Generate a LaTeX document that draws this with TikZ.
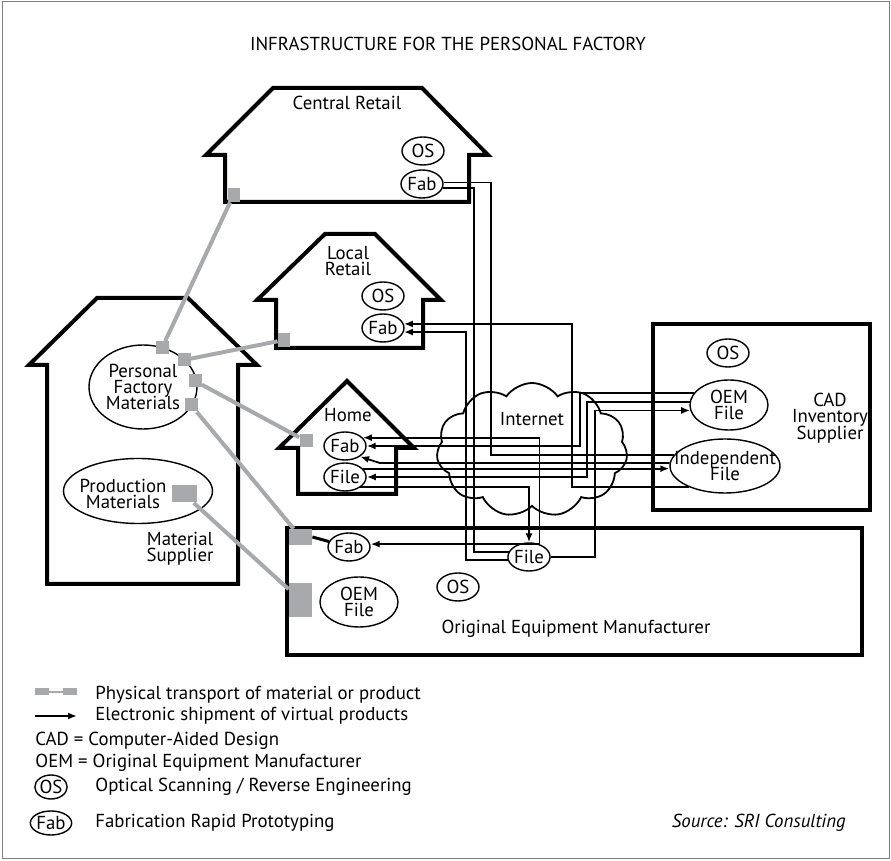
\documentclass[tikz,border=0pt]{standalone}
\usepackage{fontspec}
\setmainfont{PT Sans}
\usetikzlibrary{shapes.geometric,shapes.symbols,arrows.meta}
\definecolor{transportgray}{RGB}{168,169,173}
\lineskiplimit=-100pt

\begin{document}
\begin{tikzpicture}[x=0.5pt,y=-0.5pt,
    font=\fontsize{9.4}{8.1}\selectfont,
    house/.style={line width=2pt, line join=miter},
    oval/.style={draw, ellipse, inner sep=0pt, line width=0.7pt, align=center},
    smalloval/.style={oval, minimum width=21pt, minimum height=14pt},
    fileoval/.style={oval, minimum width=39pt, minimum height=25pt},
    txt/.style={align=center, inner sep=0pt},
    pad/.style={fill=transportgray, inner sep=0pt, minimum width=6.5pt, minimum height=6.5pt},
    transport/.style={draw=transportgray, line width=2pt},
    wire/.style={line width=0.9pt},
    ship/.style={wire, -{Latex[length=4.5pt,width=3.5pt]}}]
        \useasboundingbox (0,0) rectangle (891,861);
        \draw[gray, line width=0.5pt] (2,2) rectangle (889,859);
        \node[txt] (title) at (448,44) {INFRASTRUCTURE FOR THE PERSONAL FACTORY};

        % buildings
        \draw[house] (225,202) -- (225,155) -- (206,155) -- (273,88) -- (422,88)
            -- (488,155) -- (469,155) -- (469,202) -- cycle;
        \draw[house] (276,348) -- (276,300) -- (257,300) -- (325,234) -- (375,234)
            -- (441,300) -- (423,300) -- (423,348) -- cycle;
        \draw[house] (298,494) -- (298,448) -- (279,448) -- (347,381) -- (414,448)
            -- (396,448) -- (396,494) -- cycle;
        \draw[house] (47,584) -- (47,365) -- (29,365) -- (97,298) -- (188,298)
            -- (257,365) -- (238,365) -- (238,584) -- cycle;
        \draw[house] (653,324) rectangle (870,510);
        \draw[house] (287,528) rectangle (862,655);

        \node[txt] (crlabel) at (347,103) {Central Retail};
        \node[txt] (lrlabel) at (348,261) {Local\\Retail};
        \node[txt] (homelabel) at (348,415) {Home};
        \node[txt] (cadlabel) at (830,418) {CAD\\Inventory\\Supplier};
        \node[txt] (oemlabel) at (576,629) {Original Equipment Manufacturer};
        \node[txt] (mslabel) at (180,549) {Material\\Supplier};

        % internet
        \node[cloud, draw, line width=0.9pt, cloud puffs=11, cloud puff arc=110, aspect=1.5,
            minimum width=95.5pt, minimum height=67pt, inner sep=0pt] (internet) at (532,450) {};
        \node[txt] (netlabel) at (532,419) {Internet};

        % ovals
        \node[smalloval] (cos) at (423,151) {OS};
        \node[smalloval] (cfab) at (422,184) {Fab};
        \node[smalloval] (los) at (383,296) {OS};
        \node[smalloval] (lfab) at (383,328) {Fab};
        \node[smalloval] (hfab) at (345,446) {Fab};
        \node[smalloval] (hfile) at (345,477) {File};
        \node[smalloval] (sos) at (728,353) {OS};
        \node[fileoval] (soem) at (729,405) {OEM\\File};
        \node[oval, minimum width=55pt, minimum height=27pt] (sind) at (725,466) {};
        \node[txt] (sindlabel) at (725,466) {Independent\\File};
        \node[smalloval] (mfab) at (349,547) {Fab};
        \node[smalloval] (mfile) at (529,557) {File};
        \node[smalloval] (mos) at (458,587) {OS};
        \node[fileoval] (moem) at (359,602) {OEM\\File};
        \node[oval, minimum width=54pt, minimum height=42pt] (pfm) at (143,387) {Personal\\Factory\\Materials};
        \node[oval, minimum width=74.5pt, minimum height=32.5pt] (prod) at (138,491) {};
        \node[txt] (prodlabel) at (123,494) {Production\\Materials};

        % electronic shipment
        \draw[wire] (cfab.4) -| (491,0 |- sind.168) -- (sind.168);
        \draw[wire] (cfab.-11) -| (474,0 |- mfile.166) -- (mfile.166);
        \draw[ship] (sind.211) -| (572,0 |- lfab.11) -- (lfab.11);
        \draw[ship] (mfile.188) -| (466,0 |- lfab.-11) -- (lfab.-11);
        \draw[ship] (mfile.51) |- (hfab.25);
        \draw[ship] (mfile.51) -- (mfile.51 -| mfab.east);
        \draw[ship] (soem.161) -| (580,0 |- hfab.east) -- (hfab.east);
        \draw[ship] (sind.177) -- (380,0 |- sind.177) -- (hfab.-35);
        \draw[ship] (hfile.25) -- (hfile.25 -| sind.west);
        \draw[ship] (soem.176) -| (587,0 |- hfile.east) -- (hfile.east);
        \draw[ship] (hfile.-34) -| (mfile.north);
        \draw[ship] (mfile.east) -| (595,0 |- soem.188) -- (soem.188);

        % physical transport
        \node[pad, minimum width=6pt, minimum height=7pt] (tc) at (233.5,195) {};
        \node[pad, minimum width=6pt, minimum height=7pt] (tl) at (284,340) {};
        \node[pad] (th) at (306,441) {};
        \node[pad] (tp1) at (162,348) {};
        \node[pad] (tp2) at (184,360) {};
        \node[pad] (tp3) at (195,381) {};
        \node[pad] (tp4) at (191,405) {};
        \node[pad, minimum width=12.5pt, minimum height=8.5pt] (tprod) at (184,494) {};
        \node[pad, minimum width=11.5pt, minimum height=8pt] (tm1) at (300.5,537) {};
        \node[pad, minimum width=11.5pt, minimum height=17pt] (tm2) at (300.5,600) {};
        \draw[transport] (tc) -- (tp1);
        \draw[transport] (tl) -- (tp2);
        \draw[transport] (th) -- (tp3);
        \draw[transport] (tm1) -- (tp4);
        \draw[transport] (tm2) -- (tprod);
        \draw[line width=1.5pt] (tm1.east) -- (mfab);

        % legend
        \node[pad, minimum width=7pt, minimum height=3.5pt] (lg1) at (42,692) {};
        \node[pad, minimum width=7pt, minimum height=3.5pt] (lg2) at (70,692) {};
        \draw[transportgray, line width=1pt] (lg1) -- (lg2);
        \coordinate (la1) at (35,716);
        \coordinate (la2) at (77,716);
        \draw[ship] (la1) -- (la2);
        \node[anchor=west, inner sep=0pt] (lphys) at (95,695) {Physical transport of material or product};
        \node[anchor=west, inner sep=0pt] (lelec) at (95,716) {Electronic shipment of virtual products};
        \node[anchor=west, inner sep=0pt] (lcad) at (35,741) {CAD = Computer-Aided Design};
        \node[anchor=west, inner sep=0pt] (loem) at (35,763) {OEM = Original Equipment Manufacturer};
        \node[oval, minimum width=16pt, minimum height=12pt] (lgos) at (51,787) {OS};
        \node[anchor=west, inner sep=0pt] (los2) at (95,787) {Optical Scanning / Reverse Engineering};
        \node[oval, minimum width=16pt, minimum height=12pt] (lgfab) at (51,823) {Fab};
        \node[anchor=west, inner sep=0pt] (lfab2) at (95,823) {Fabrication Rapid Prototyping};
        \node[anchor=east, inner sep=0pt] (source) at (846,823) {\itshape Source: SRI Consulting};
\end{tikzpicture}
\end{document}
